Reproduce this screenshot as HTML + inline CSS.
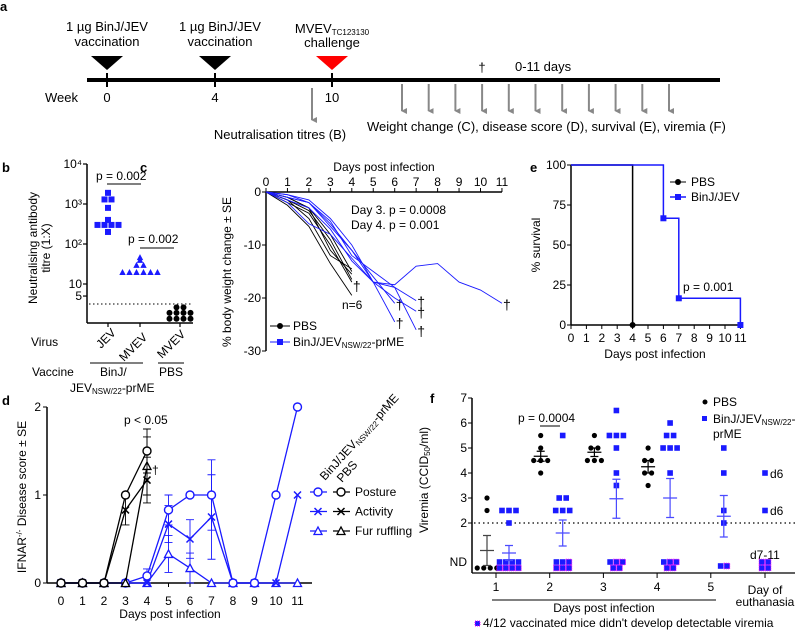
<!DOCTYPE html>
<html><head><meta charset="utf-8"><style>
html,body{margin:0;padding:0;background:#fff;width:800px;height:633px;overflow:hidden}
svg{display:block;font-family:"Liberation Sans",Arial,sans-serif;font-size:12px}
</style></head><body>
<svg id="fig" width="800" height="633" viewBox="0 0 800 633" xmlns="http://www.w3.org/2000/svg">
<defs>
<marker id="ah" markerWidth="6" markerHeight="6" refX="3" refY="5" orient="auto" markerUnits="userSpaceOnUse"><path d="M0,0 L6,0 L3,6 Z" fill="#888"/></marker>
</defs>
<!-- Panel a -->
<g font-size="13">
<text x="0" y="11" font-weight="bold" font-size="13">a</text>
<rect x="87" y="78" width="633" height="4" fill="#000"/>
<g stroke="#000" stroke-width="2">
<line x1="107" y1="73" x2="107" y2="87"/><line x1="215" y1="73" x2="215" y2="87"/><line x1="332" y1="73" x2="332" y2="87"/></g>
<polygon points="91,56 123,56 107,70" fill="#000"/>
<polygon points="199,56 231,56 215,70" fill="#000"/>
<polygon points="316,56 348,56 332,70" fill="#f00"/>
<g text-anchor="middle">
<text x="107" y="31">1 µg BinJ/JEV</text><text x="107" y="46">vaccination</text>
<text x="220" y="31">1 µg BinJ/JEV</text><text x="220" y="46">vaccination</text>
<text x="332" y="33">MVEV<tspan font-size="8" dy="2">TC123130</tspan></text><text x="332" y="47">challenge</text>
<text x="107" y="102">0</text><text x="215" y="102">4</text><text x="332" y="102">10</text>
<text x="482" y="72">†</text>
<text x="280" y="139">Neutralisation titres (B)</text>
</g>
<text x="45" y="102">Week</text>
<text x="515" y="71">0-11 days</text>
<text x="367" y="131">Weight change (C), disease score (D), survival (E), viremia (F)</text>
<line x1="312" y1="88" x2="312" y2="120" stroke="#888" stroke-width="2" marker-end="url(#ah)"/>
<g id="arrows"></g>
</g>

<!-- Panel b -->
<g id="pb">
<text x="2" y="172" font-weight="bold" font-size="13">b</text>
<line x1="87" y1="164" x2="87" y2="323" stroke="#000" stroke-width="1.5"/>
<line x1="87" y1="323" x2="193" y2="323" stroke="#000" stroke-width="1.5"/>
<line x1="89" y1="304" x2="193" y2="304" stroke="#000" stroke-dasharray="1.5,2.5"/>
<g text-anchor="middle" transform="rotate(-90)">
<text x="-248" y="37">Neutralising antibody</text><text x="-248" y="50">titre (1:X)</text></g>
<text x="96" y="180">p = 0.002</text>
<line x1="107" y1="184" x2="141" y2="184" stroke="#000"/>
<text x="128" y="243">p = 0.002</text>
<line x1="140" y1="248" x2="174" y2="248" stroke="#000"/>
<text x="31" y="346">Virus</text>
<text transform="translate(101,349) rotate(-45)">JEV</text>
<text transform="translate(124,362) rotate(-45)">MVEV</text>
<text transform="translate(162,359) rotate(-45)">MVEV</text>
<text x="32" y="376">Vaccine</text>
<line x1="90" y1="363" x2="143" y2="363" stroke="#000"/>
<line x1="158" y1="363" x2="184" y2="363" stroke="#000"/>
<text x="100" y="376">BinJ/</text>
<text x="70" y="392">JEV<tspan font-size="8" dy="2">NSW/22</tspan><tspan dy="-2">-prME</tspan></text>
<text x="159" y="376">PBS</text>
</g>

<!-- Panel c -->
<g id="pc">
<text x="140" y="172" font-weight="bold" font-size="13">c</text>
<text x="384" y="171" text-anchor="middle">Days post infection</text>
<text transform="translate(231,272) rotate(-90)" text-anchor="middle">% body weight change ± SE</text>
<text x="351" y="214">Day 3. p = 0.0008</text>
<text x="351" y="229">Day 4. p = 0.001</text>
<text x="342" y="309">n=6</text>
<line x1="270" y1="326" x2="290" y2="326" stroke="#000"/>
<circle cx="280" cy="326" r="3" fill="#000"/>
<text x="293" y="330">PBS</text>
<line x1="270" y1="342" x2="290" y2="342" stroke="#1a1aff"/>
<rect x="277" y="339" width="6" height="6" fill="#1a1aff"/>
<text x="293" y="346">BinJ/JEV<tspan font-size="8" dy="2">NSW/22</tspan><tspan dy="-2">-prME</tspan></text>
</g>

<!-- Panel e -->
<g id="pe">
<text x="530" y="172" font-weight="bold" font-size="13">e</text>
<text transform="translate(540,245) rotate(-90)" text-anchor="middle">% survival</text>
<text x="655" y="358" text-anchor="middle">Days post infection</text>
<text x="683" y="291">p = 0.001</text>
<line x1="670" y1="182" x2="686" y2="182" stroke="#000"/>
<circle cx="678" cy="182" r="3" fill="#000"/>
<text x="691" y="186">PBS</text>
<line x1="670" y1="197" x2="686" y2="197" stroke="#1a1aff" stroke-width="1.5"/>
<rect x="675" y="194" width="6" height="6" fill="#1a1aff"/>
<text x="691" y="201">BinJ/JEV</text>
</g>

<!-- Panel d -->
<g id="pd">
<text x="2" y="405" font-weight="bold" font-size="13">d</text>
<text transform="translate(26,497) rotate(-90)" text-anchor="middle">IFNAR<tspan font-size="8" dy="-4">-/-</tspan><tspan dy="4"> Disease score ± SE</tspan></text>
<text x="170" y="618" text-anchor="middle">Days post infection</text>
<text x="124" y="424">p &lt; 0.05</text>
<text x="152" y="474">†</text>
<text transform="translate(325,481) rotate(-48)">BinJ/JEV<tspan font-size="8" dy="2">NSW/22</tspan><tspan dy="-2">-prME</tspan></text>
<text transform="translate(342,483) rotate(-48)">PBS</text>
</g>

<!-- Panel f -->
<g id="pf">
<text x="430" y="403" font-weight="bold" font-size="13">f</text>
<text transform="translate(428,480) rotate(-90)" text-anchor="middle">Viremia (CCID<tspan font-size="8" dy="2">50</tspan><tspan dy="-2">/ml)</tspan></text>
<text x="467" y="566" text-anchor="end">ND</text>
<line x1="474" y1="523" x2="795" y2="523" stroke="#000" stroke-width="1.2" stroke-dasharray="1.5,3"/>
<text x="518" y="422">p = 0.0004</text>
<line x1="540" y1="426" x2="560" y2="426" stroke="#000"/>
<circle cx="705" cy="402" r="2.5" fill="#000"/>
<text x="713" y="406">PBS</text>
<rect x="702" y="416" width="5" height="5" fill="#1a1aff"/>
<text x="713" y="423">BinJ/JEV<tspan font-size="8" dy="2">NSW/22</tspan><tspan dy="-2">-</tspan></text>
<text x="713" y="438">prME</text>
<text x="770" y="478">d6</text>
<text x="770" y="515">d6</text>
<text x="750" y="559">d7-11</text>
<line x1="492" y1="600" x2="716" y2="600" stroke="#000"/>
<text x="604" y="612" text-anchor="middle">Days post infection</text>
<text x="765" y="594" text-anchor="middle">Day of</text>
<text x="765" y="606" text-anchor="middle">euthanasia</text>
<rect x="475" y="621" width="5" height="5" fill="#1a1aff" stroke="#f0f" stroke-width="1" stroke-dasharray="1,1"/>
<text x="483" y="627">4/12 vaccinated mice didn't develop detectable viremia</text>
</g>
</svg>
<script>
const NS = 'http://www.w3.org/2000/svg';
const BLUE = '#1a1aff';
// ---- Panel a data
const readoutDays = [0,1,2,3,4,5,6,7,8,9,10];
// ---- Panel b data
const bTickVals = [10000,1000,100,10,5];
const bTickLabels = ['10⁴','10³','10²','10','5'];
const jevTitres = [1900,1300,1300,800,400,300,300,300,300,200];
const mvevTitres = [47,40,30,30,20,20,20,20,20,20];
const pbsTitres = [2.6,2.6,1.9,1.9,1.9,1.9,1.35,1.35,1.35,1.35];
// ---- Panel c data
const cDays = [0,1,2,3,4,5,6,7,8,9,10,11];
const cYTicks = [0,-10,-20,-30];
const pbsWeights = [
 [0,-1,-3,-8,-15],[0,-1.5,-3.5,-9,-16.5],[0,-2,-4,-10,-17],
 [0,-2.5,-6.5,-13.5,-19.5],[0,-1,-3,-11,-15.5],[0,-1.5,-5,-12,-14.5]];
const binjWeights = [
 [0,-0.5,-1.5,-5,-10,-17,-17.5,-14,-13.5,-17,-18.5,-21],
 [0,-1,-2,-6,-11,-16,-21],[0,-1.5,-3,-7,-13,-17,-24.5],
 [0,-1,-2,-5.5,-12,-15,-18,-20.5],[0,-0.5,-2,-6.5,-11,-17,-20,-22.5],
 [0,-2,-6,-8,-12.5,-17,-18,-26]];
// ---- Panel e data
const eYTicks = [0,25,50,75,100];
const pbsSurvDays = [0,4,4];
const pbsSurv = [100,100,0];
const binjSurvDays = [0,6,6,7,7,11,11];
const binjSurv = [100,100,66.7,66.7,16.7,16.7,0];
// ---- Panel d data
const dDays = [0,1,2,3,4,5,6,7,8,9,10,11];
const pbsPosture = [0,0,0,1,1.5];
const pbsPostureSE = [0,0,0,0,0.25];
const pbsActivity = [0,0,0,0.83,1.17];
const pbsActivitySE = [0,0,0,0.17,0.26];
const pbsFur = [0,0,0,0,1.33];
const pbsFurSE = [0,0,0,0,0.33];
const binjPosture = [0,0,0,0,0.08,0.83,1,1,0,0,1,2];
const binjPostureSE = [0,0,0,0,0.08,0.17,0,0.4,0,0,0,0];
const binjActivity = [0,0,0,0,0,0.67,0.5,0.75,0,0,0,1];
const binjActivitySE = [0,0,0,0,0,0.21,0.22,0.48,0,0,0,0];
const binjFur = [0,0,0,0,0,0.33,0.17,0,0,0,0,0];
const binjFurSE = [0,0,0,0,0,0.21,0.17,0,0,0,0,0];
const dLegend = ['Posture','Activity','Fur ruffling'];
// ---- Panel f data
const fGroups = ['1','2','3','4','5'];
const fYTicks = [2,3,4,5,6,7];
const pbsVir = [[3,2.5],[5.5,5,4.5,4.5,4.5,4],[5.5,5,5,4.5,4.5,4.5],[5,4.5,4.5,4,4,3.5]];
const pbsNd = [4,0,0,0];
const pbsMean = [0.9,4.67,4.83,4.25];
const pbsSE = [0.6,0.2,0.17,0.25];
const binjVir = [[2.5,2.5,2.5,2],[5.5,3,3,2.5,2.5,2.5],[6.5,5.5,5.5,5.5,5,4,3.5],[6,5.5,5.5,5,5,5,4],[5,4,2.5,2]];
const binjNd = [8,6,5,5,2];
const binjNdMagenta = [4,4,4,4,1];
const binjMean = [0.8,1.6,2.97,3.0,2.27];
const binjSE = [0.3,0.52,0.78,0.78,0.83];
const euthVir = [4,2.5];
const euthNd = 4;

function mk(tag, attrs, parent){
  const el = document.createElementNS(NS, tag);
  for (const k in attrs) el.setAttribute(k, attrs[k]);
  (parent || document.getElementById('fig')).appendChild(el);
  return el;
}
function txt(x,y,s,parent,anchor){
  const t = mk('text',{x:x,y:y,'text-anchor':anchor||'start'},parent);
  t.textContent = s;
  return t;
}

// ===== Panel a arrows
const ga = document.getElementById('arrows');
readoutDays.forEach(d=>{
  const l = mk('line',{x1:402+d*26.7,y1:84,x2:402+d*26.7,y2:111,stroke:'#888','stroke-width':2,'marker-end':'url(#ah)'},ga);
  
  
});

// ===== Panel b
const gb = document.getElementById('pb');
const byv = v => 324 - 40*Math.log10(v);
bTickVals.forEach((v,i)=>{
  const t = mk('line',{x1:83,y1:byv(v),x2:87,y2:byv(v),stroke:'#000','stroke-width':1.2},gb);
  
  
  const lb = txt(82,byv(v)+4,bTickLabels[i],gb,'end');
  
  
});
[108,140,180].forEach(x=>{
  const t = mk('line',{x1:x,y1:323,x2:x,y2:327,stroke:'#000','stroke-width':1.2},gb);
  
  
});
function swarm(vals, cx){
  const out=[]; const groups={};
  vals.forEach(v=>{groups[v]=(groups[v]||0)+1;});
  Object.keys(groups).forEach(k=>{
    const n=groups[k];
    for(let i=0;i<n;i++) out.push([cx+(i-(n-1)/2)*7, +k]);
  });
  return out;
}
swarm(jevTitres,108).forEach(p=>{
  const r = mk('rect',{x:p[0]-3,y:byv(p[1])-3,width:6,height:6,fill:BLUE},gb);
  
  
});
swarm(mvevTitres,140).forEach(p=>{
  const y=byv(p[1]);
  const r = mk('polygon',{points:`${p[0]-3.2},${y+3} ${p[0]+3.2},${y+3} ${p[0]},${y-3}`,fill:BLUE},gb);
  
  
});
swarm(pbsTitres,180).forEach(p=>{
  const c = mk('circle',{cx:p[0],cy:byv(p[1]),r:3,fill:'#000'},gb);
  
  
});

// ===== Panel c
const gc = document.getElementById('pc');
const cx = d => 266 + d*21.45;
const cy = v => 192 - v*5.3;
const cxa = mk('line',{x1:266,y1:192,x2:cx(11),y2:192,stroke:'#000','stroke-width':1.5},gc);


const cya = mk('line',{x1:266,y1:192,x2:266,y2:cy(-30),stroke:'#000','stroke-width':1.5},gc);


cDays.forEach(d=>{
  const t = mk('line',{x1:cx(d),y1:188,x2:cx(d),y2:192,stroke:'#000'},gc);
  
  
  const l = txt(cx(d),186,String(d),gc,'middle');
  
  
});
cYTicks.forEach(v=>{
  const t = mk('line',{x1:262,y1:cy(v),x2:266,y2:cy(v),stroke:'#000'},gc);
  
  
  const l = txt(261,cy(v)+4,String(v),gc,'end');
  
  
});
function dagger(x,y,g){
  const t = txt(x,y,'†',g,'middle');
  t.setAttribute('font-size','14');
  return t;
}
pbsWeights.forEach(w=>{
  const pl = mk('polyline',{points:w.map((v,i)=>cx(i)+','+cy(v)).join(' '),fill:'none',stroke:'#000','stroke-width':0.9},gc);
  
  
});
binjWeights.forEach(w=>{
  const pl = mk('polyline',{points:w.map((v,i)=>cx(i)+','+cy(v)).join(' '),fill:'none',stroke:BLUE,'stroke-width':0.9},gc);
  
  
  const last=w.length-1;
  const dg = dagger(cx(last)+5,cy(w[last])+6,gc);
  
  
});
const pdg = dagger(cx(4)+5,cy(-17.5)+6,gc);



// ===== Panel e
const ge = document.getElementById('pe');
const ex = d => 571 + d*15.4;
const ey = p => 325 - p*1.6;
const eya = mk('line',{x1:571,y1:ey(100),x2:571,y2:325,stroke:'#000','stroke-width':1.5},ge);


const exa = mk('line',{x1:571,y1:325,x2:ex(11),y2:325,stroke:'#000','stroke-width':1.5},ge);


eYTicks.forEach(v=>{
  const t = mk('line',{x1:567,y1:ey(v),x2:571,y2:ey(v),stroke:'#000'},ge);
  
  
  const l = txt(566,ey(v)+4,String(v),ge,'end');
  
  
});
cDays.forEach(d=>{
  const t = mk('line',{x1:ex(d),y1:325,x2:ex(d),y2:329,stroke:'#000'},ge);
  
  
  const l = txt(ex(d),342,String(d),ge,'middle');
  
  
});
const pbsS = mk('polyline',{points:pbsSurvDays.map((d,i)=>ex(d)+','+ey(pbsSurv[i])).join(' '),fill:'none',stroke:'#000','stroke-width':1.5},ge);


const binjS = mk('polyline',{points:binjSurvDays.map((d,i)=>ex(d)+','+ey(binjSurv[i])).join(' '),fill:'none',stroke:BLUE,'stroke-width':1.5},ge);


const pe1 = mk('circle',{cx:ex(pbsSurvDays[2]),cy:ey(pbsSurv[2]),r:3,fill:'#000'},ge);


[2,4,6].forEach(i=>{
  const r = mk('rect',{x:ex(binjSurvDays[i])-3,y:ey(binjSurv[i])-3,width:6,height:6,fill:BLUE},ge);
  
  
});

// ===== Panel d
const gd = document.getElementById('pd');
const dx = d => 61 + d*21.5;
const dy = s => 583 - s*88;
const dya = mk('line',{x1:47,y1:dy(2),x2:47,y2:583,stroke:'#000','stroke-width':1.5},gd);


const dxa = mk('line',{x1:47,y1:583,x2:312,y2:583,stroke:'#000','stroke-width':1.5},gd);


[0,1,2].forEach(v=>{
  const t = mk('line',{x1:43,y1:dy(v),x2:47,y2:dy(v),stroke:'#000'},gd);
  
  
  const l = txt(41,dy(v)+4,String(v),gd,'end');
  
  
});
dDays.forEach(d=>{
  const t = mk('line',{x1:dx(d),y1:583,x2:dx(d),y2:587,stroke:'#000'},gd);
  
  
  const l = txt(dx(d),605,String(d),gd,'middle');
  
  
});
function marker(kind,x,y,col,g){
  if(kind===0) return mk('circle',{cx:x,cy:y,r:4,fill:'#fff',stroke:col,'stroke-width':1.4},g);
  if(kind===1) return mk('path',{d:`M${x-3.5},${y-3.5}L${x+3.5},${y+3.5}M${x-3.5},${y+3.5}L${x+3.5},${y-3.5}`,stroke:col,'stroke-width':1.5},g);
  return mk('polygon',{points:`${x-4},${y+3.5} ${x+4},${y+3.5} ${x},${y-4}`,fill:'#fff',stroke:col,'stroke-width':1.3},g);
}
function dSeries(vals,se,col,kind,name){
  const pl = mk('polyline',{points:vals.map((v,i)=>dx(i)+','+dy(v)).join(' '),fill:'none',stroke:col,'stroke-width':1.3},gd);
  
  
  vals.forEach((v,i)=>{
    if(se[i]>0){
      const e = mk('path',{d:`M${dx(i)},${dy(v-se[i])}V${dy(v+se[i])}M${dx(i)-4},${dy(v-se[i])}h8M${dx(i)-4},${dy(v+se[i])}h8`,stroke:col,'stroke-width':0.9,fill:'none'},gd);
      
      
    }
    const m = marker(kind,dx(i),dy(v),col,gd);
    
    
  });
}
dSeries(binjFur,binjFurSE,BLUE,2,'d-binj-fur');
dSeries(binjActivity,binjActivitySE,BLUE,1,'d-binj-activity');
dSeries(binjPosture,binjPostureSE,BLUE,0,'d-binj-posture');
dSeries(pbsFur,pbsFurSE,'#000',2,'d-pbs-fur');
dSeries(pbsActivity,pbsActivitySE,'#000',1,'d-pbs-activity');
dSeries(pbsPosture,pbsPostureSE,'#000',0,'d-pbs-posture');
dLegend.forEach((s,i)=>{
  const y = 492 + i*19.5;
  const l1 = mk('line',{x1:310,y1:y,x2:327,y2:y,stroke:BLUE,'stroke-width':1.3},gd);
  
  
  const m1 = marker(i,318,y,BLUE,gd);
  
  
  const l2 = mk('line',{x1:333,y1:y,x2:350,y2:y,stroke:'#000','stroke-width':1.3},gd);
  
  
  const m2 = marker(i,341,y,'#000',gd);
  
  
  const t = txt(355,y+4,s,gd);
  
  
});

// ===== Panel f
const gf = document.getElementById('pf');
const fy = v => 523 - (v-2)*25;
const gx = i => 496 + i*53.7;
const fya = mk('line',{x1:472,y1:fy(7),x2:472,y2:573,stroke:'#000','stroke-width':1.5},gf);


const fxa = mk('line',{x1:472,y1:573,x2:795,y2:573,stroke:'#000','stroke-width':1.2},gf);


fYTicks.forEach(v=>{
  const t = mk('line',{x1:468,y1:fy(v),x2:472,y2:fy(v),stroke:'#000'},gf);
  
  
  const l = txt(467,fy(v)+4,String(v),gf,'end');
  
  
});
fGroups.concat(['E']).forEach((g,i)=>{
  const x = i<5 ? gx(i) : 765;
  const t = mk('line',{x1:x,y1:573,x2:x,y2:578,stroke:'#000'},gf);
  
  
  if(i<5){
    const l = txt(x,591,g,gf,'middle');
    
    
  }
});
function ndBlock(n,mag,cx,g,name){
  const perRow = Math.ceil(n/2);
  for(let k=0;k<n;k++){
    const row = n<=2 ? 0 : (k<perRow?0:1);
    const col = n<=2 ? k : (k<perRow?k:k-perRow);
    const cnt = n<=2 ? n : (row===0?perRow:n-perRow);
    const x = cx + (col-(cnt-1)/2)*6.3;
    const y = n<=2 ? 566 : (row===0?562:568);
    const isMag = k >= n-mag;
    const r = mk('rect',{x:x-2.8,y:y-2.8,width:5.6,height:5.6,fill:BLUE},g);
    if(isMag){ r.setAttribute('stroke','#f0f'); r.setAttribute('stroke-width','0.9'); r.setAttribute('stroke-dasharray','1,1'); }
    
    
  }
}
function meanBar(cx,m,se,col,g,name){
  const p = mk('path',{d:`M${cx-7},${fy(m)}h14M${cx},${fy(m-se)}V${fy(m+se)}M${cx-4},${fy(m-se)}h8M${cx-4},${fy(m+se)}h8`,stroke:col,'stroke-width':1.2,fill:'none'},g);
  
  
}
pbsVir.forEach((vals,i)=>{
  const c0 = gx(i)-9;
  swarm(vals,c0).forEach(p=>{
    const c = mk('circle',{cx:p[0],cy:fy(p[1]),r:2.6,fill:'#000'},gf);
    
    
  });
  for(let k=0;k<pbsNd[i];k++){
    const c = mk('circle',{cx:c0+(k-(pbsNd[i]-1)/2)*6.5,cy:568,r:2.6,fill:'#000'},gf);
    
    
  }
  meanBar(c0,pbsMean[i],pbsSE[i],i===0?'#444':'#000',gf,'f-pbs-mean-se');
});
binjVir.forEach((vals,i)=>{
  const c0 = gx(i)+13;
  swarm(vals,c0).forEach(p=>{
    const r = mk('rect',{x:p[0]-2.8,y:fy(p[1])-2.8,width:5.6,height:5.6,fill:BLUE},gf);
    
    
  });
  ndBlock(binjNd[i],binjNdMagenta[i],c0,gf,'f-binj-nd-point');
  meanBar(c0,binjMean[i],binjSE[i],'#4a4aff',gf,'f-binj-mean-se');
});
euthVir.forEach(v=>{
  const r = mk('rect',{x:765-2.8,y:fy(v)-2.8,width:5.6,height:5.6,fill:BLUE},gf);
  
  
});
ndBlock(euthNd,euthNd,765,gf,'f-euthanasia-nd-point');
</script>
</body></html>
